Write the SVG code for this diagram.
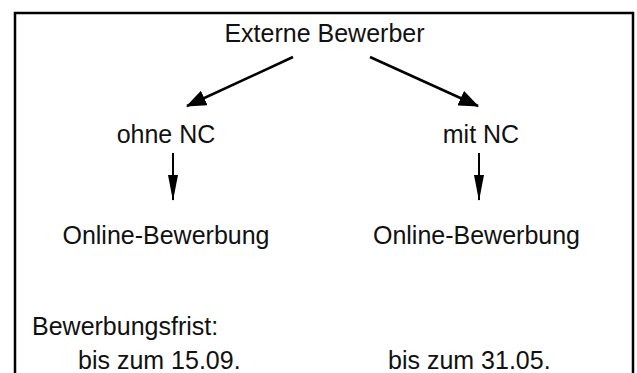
<svg xmlns="http://www.w3.org/2000/svg" width="637" height="373" viewBox="0 0 637 373">
  <style>
    .t { font-family: "Liberation Sans", Arial, sans-serif; font-size: 25px; fill: #111; }
    .c { text-anchor: middle; }
    .ln { stroke: #000; fill: none; }
  </style>
  <defs>
    <marker id="headD" markerUnits="userSpaceOnUse" viewBox="0 0 20 16" markerWidth="20" markerHeight="16" refX="19" refY="8" orient="auto">
      <path d="M0,0 L20,8 L0,16 z" fill="#000"/>
    </marker>
    <marker id="headV" markerUnits="userSpaceOnUse" viewBox="0 0 26 10" markerWidth="26" markerHeight="10" refX="25" refY="5" orient="auto">
      <path d="M0,0 L26,5 L0,10 z" fill="#000"/>
    </marker>
  </defs>
  <rect width="637" height="373" fill="#fff"/>
  <path d="M15,380 V13 H633 V380" stroke="#000" stroke-width="2.5" fill="none"/>
  <g id="connectors">
    <path class="ln" d="M293,57 L187,106" stroke-width="2.5" marker-end="url(#headD)"/>
    <path class="ln" d="M370,57 L478,106" stroke-width="2.5" marker-end="url(#headD)"/>
    <path class="ln" d="M173,153 L173,200" stroke-width="2" marker-end="url(#headV)"/>
    <path class="ln" d="M479,153 L479,200" stroke-width="2" marker-end="url(#headV)"/>
  </g>
  <g id="externe"><text class="t c" x="324.5" y="42">Externe Bewerber</text></g>
  <g id="ohne-nc"><text class="t c" x="166" y="143">ohne NC</text></g>
  <g id="mit-nc"><text class="t c" x="481" y="143">mit NC</text></g>
  <g id="online-left"><text class="t c" x="166" y="244">Online-Bewerbung</text></g>
  <g id="online-right"><text class="t c" x="476.5" y="244">Online-Bewerbung</text></g>
  <g id="frist">
    <text class="t" x="32" y="335">Bewerbungsfrist:</text>
    <text class="t" x="78" y="369">bis zum 15.09.</text>
    <text class="t" x="388" y="369">bis zum 31.05.</text>
  </g>
</svg>
